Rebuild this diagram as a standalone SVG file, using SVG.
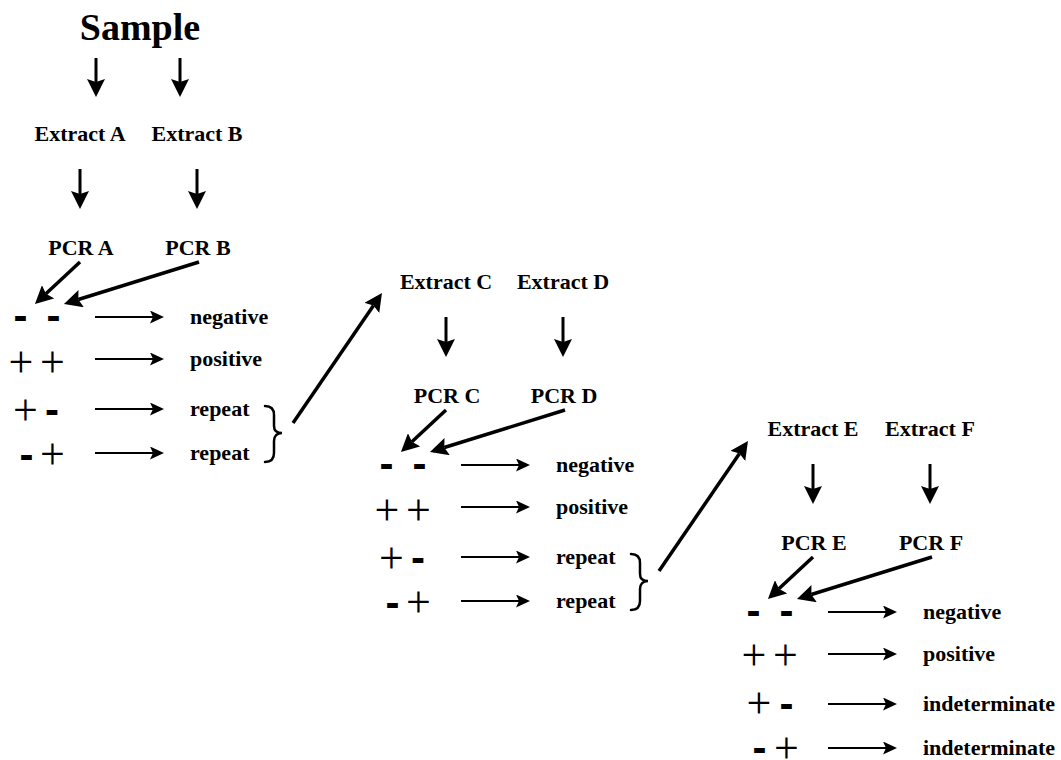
<svg xmlns="http://www.w3.org/2000/svg" width="1061" height="760" viewBox="0 0 1061 760">
<style>
.t{font-family:"Liberation Serif","Times New Roman",serif;font-weight:bold;font-size:22px;fill:#000}
.ttl{font-family:"Liberation Serif","Times New Roman",serif;font-weight:bold;font-size:38px;fill:#000}
.c{text-anchor:middle}
.p{font-family:"Liberation Serif","Times New Roman",serif;font-size:44px;fill:#000;text-anchor:middle}
.m{font-family:"Liberation Sans",Arial,sans-serif;font-weight:bold;font-size:42px;fill:#000;text-anchor:middle}
.big{stroke:#000;stroke-width:3;fill:none;marker-end:url(#hb)}
.dg{stroke:#000;stroke-width:3.5;fill:none;marker-end:url(#hb)}
.thin{stroke:#000;stroke-width:2;fill:none;marker-end:url(#hs)}
.br{stroke:#000;stroke-width:2.5;fill:none;stroke-linecap:round}
</style>
<defs>
<marker id="hb" markerUnits="userSpaceOnUse" viewBox="0 0 18 18" refX="3" refY="9" markerWidth="18" markerHeight="18" orient="auto"><path d="M0,0 L18,9 L0,18 L3,9 z" fill="#000"/></marker>
<marker id="hs" markerUnits="userSpaceOnUse" viewBox="0 0 14 13" refX="3" refY="6.5" markerWidth="14" markerHeight="13" orient="auto"><path d="M0,0 L14,6.5 L0,13 L3,6.5 z" fill="#000"/></marker>
</defs>

<g id="sample"><text class="ttl c" x="140" y="40">Sample</text></g>

<g id="extractA"><text class="t c" x="80" y="141">Extract A</text></g>
<g id="extractB"><text class="t c" x="197" y="141">Extract B</text></g>
<g id="pcrA"><text class="t c" x="81" y="255">PCR A</text></g>
<g id="pcrB"><text class="t c" x="198" y="255">PCR B</text></g>
<g id="signs1">
<text class="m" x="20.5" y="330">-</text><text class="m" x="53.5" y="330">-</text>
<text class="p" x="21" y="376.7">+</text><text class="p" x="52.5" y="376.7">+</text>
<text class="p" x="25.5" y="425">+</text><text class="m" x="52" y="424">-</text>
<text class="m" x="26.5" y="469">-</text><text class="p" x="52.5" y="469">+</text>
</g>
<g id="results1">
<text class="t" x="190" y="324">negative</text>
<text class="t" x="190" y="366">positive</text>
<text class="t" x="190" y="416">repeat</text>
<text class="t" x="190" y="460">repeat</text>
</g>
<g id="brace1"><path class="br" d="M265,406 C271,406 274,409 274,415 L274,426 C274,431 277,433 282,433 C277,433 274,436 274,441 L274,453 C274,459 271,462 265,462"/></g>

<g id="extractC"><text class="t c" x="446" y="289">Extract C</text></g>
<g id="extractD"><text class="t c" x="563" y="289">Extract D</text></g>
<g id="pcrC"><text class="t c" x="447" y="403">PCR C</text></g>
<g id="pcrD"><text class="t c" x="564" y="403">PCR D</text></g>
<g id="signs2">
<text class="m" x="386.5" y="478">-</text><text class="m" x="419.5" y="478">-</text>
<text class="p" x="387" y="524.7">+</text><text class="p" x="418.5" y="524.7">+</text>
<text class="p" x="391.5" y="573">+</text><text class="m" x="418" y="572">-</text>
<text class="m" x="392.5" y="617">-</text><text class="p" x="418.5" y="617">+</text>
</g>
<g id="results2">
<text class="t" x="556" y="472">negative</text>
<text class="t" x="556" y="514">positive</text>
<text class="t" x="556" y="564">repeat</text>
<text class="t" x="556" y="608">repeat</text>
</g>
<g id="brace2"><path class="br" d="M631,554 C637,554 640,557 640,563 L640,574 C640,579 643,581 648,581 C643,581 640,584 640,589 L640,601 C640,607 637,610 631,610"/></g>

<g id="extractE"><text class="t c" x="813" y="436">Extract E</text></g>
<g id="extractF"><text class="t c" x="930" y="436">Extract F</text></g>
<g id="pcrE"><text class="t c" x="814" y="550">PCR E</text></g>
<g id="pcrF"><text class="t c" x="931" y="550">PCR F</text></g>
<g id="signs3">
<text class="m" x="753.5" y="625">-</text><text class="m" x="786.5" y="625">-</text>
<text class="p" x="754" y="670">+</text><text class="p" x="785.5" y="670">+</text>
<text class="p" x="759" y="718">+</text><text class="m" x="786.5" y="718">-</text>
<text class="m" x="759.5" y="762">-</text><text class="p" x="786.5" y="763">+</text>
</g>
<g id="results3">
<text class="t" x="923" y="619">negative</text>
<text class="t" x="923" y="661">positive</text>
<text class="t" x="923" y="711">indeterminate</text>
<text class="t" x="923" y="755">indeterminate</text>
</g>

<g id="connectors">
<line class="big" x1="96" y1="58" x2="96" y2="82"/>
<line class="big" x1="180" y1="58" x2="180" y2="82"/>
<line class="big" x1="80" y1="169" x2="80" y2="194"/>
<line class="big" x1="197" y1="169" x2="197" y2="194"/>
<line class="dg" x1="80" y1="262" x2="45.9" y2="293.8"/>
<line class="dg" x1="199" y1="262" x2="78.3" y2="299.5"/>
<line class="thin" x1="95" y1="317" x2="153" y2="317"/>
<line class="thin" x1="95" y1="359" x2="153" y2="359"/>
<line class="thin" x1="95" y1="409" x2="153" y2="409"/>
<line class="thin" x1="95" y1="453" x2="153" y2="453"/>
<line class="dg" x1="293" y1="423" x2="373.5" y2="305.4"/>

<line class="big" x1="446" y1="317" x2="446" y2="342"/>
<line class="big" x1="563" y1="317" x2="563" y2="342"/>
<line class="dg" x1="446" y1="410" x2="411.9" y2="441.8"/>
<line class="dg" x1="565" y1="410" x2="444.3" y2="447.5"/>
<line class="thin" x1="461" y1="465" x2="519" y2="465"/>
<line class="thin" x1="461" y1="507" x2="519" y2="507"/>
<line class="thin" x1="461" y1="557" x2="519" y2="557"/>
<line class="thin" x1="461" y1="601" x2="519" y2="601"/>
<line class="dg" x1="659" y1="571" x2="739.5" y2="453.4"/>

<line class="big" x1="813" y1="464" x2="813" y2="489"/>
<line class="big" x1="930" y1="464" x2="930" y2="489"/>
<line class="dg" x1="813" y1="557" x2="778.9" y2="588.8"/>
<line class="dg" x1="932" y1="557" x2="811.3" y2="594.5"/>
<line class="thin" x1="828" y1="612" x2="886" y2="612"/>
<line class="thin" x1="828" y1="654" x2="886" y2="654"/>
<line class="thin" x1="828" y1="704" x2="886" y2="704"/>
<line class="thin" x1="828" y1="748" x2="886" y2="748"/>
</g>
</svg>
